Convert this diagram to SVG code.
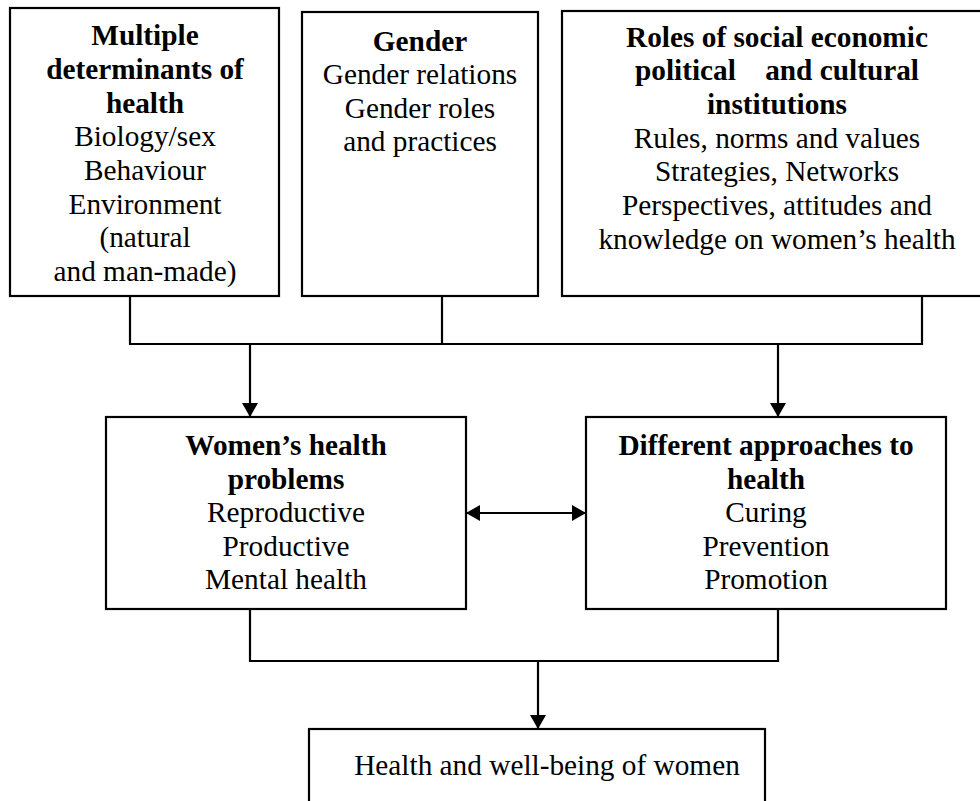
<svg xmlns="http://www.w3.org/2000/svg" width="980" height="801" viewBox="0 0 980 801">
<defs>
<style>
.box{fill:#fff;stroke:#000;stroke-width:2.2}
.ln{fill:none;stroke:#000;stroke-width:2.2}
text{font-family:"Liberation Serif","Times New Roman",serif;font-size:29.3px;fill:#000;text-anchor:middle}
.b{font-weight:bold}
</style>
<marker id="ah" viewBox="0 0 14 16" refX="14" refY="8" markerWidth="14" markerHeight="16" markerUnits="userSpaceOnUse" orient="auto-start-reverse">
<path d="M0,0 L14,8 L0,16 Z" fill="#000"/>
</marker>
</defs>
<rect width="980" height="801" fill="#fff"/>
<g id="connectors">
<polyline class="ln" points="130,296 130,344 922,344 922,296"/>
<line class="ln" x1="442" y1="296" x2="442" y2="344"/>
<line class="ln" x1="250" y1="344" x2="250" y2="417" marker-end="url(#ah)"/>
<line class="ln" x1="778" y1="344" x2="778" y2="417" marker-end="url(#ah)"/>
<line class="ln" x1="466" y1="513" x2="586" y2="513" marker-start="url(#ah)" marker-end="url(#ah)"/>
<polyline class="ln" points="250,609 250,661 778,661 778,609"/>
<line class="ln" x1="538" y1="661" x2="538" y2="729" marker-end="url(#ah)"/>
</g>
<g id="n1">
<rect class="box" x="10" y="8" width="269" height="288"/>
<text x="145" y="45" class="b">Multiple</text>
<text x="145" y="79" class="b">determinants of</text>
<text x="145" y="112.5" class="b">health</text>
<text x="145" y="146">Biology/sex</text>
<text x="145" y="180">Behaviour</text>
<text x="145" y="213.5">Environment</text>
<text x="145" y="247">(natural</text>
<text x="145" y="281">and man-made)</text>
</g>
<g id="n2">
<rect class="box" x="302" y="12" width="236" height="284"/>
<text x="420" y="50.5" class="b">Gender</text>
<text x="420" y="84">Gender relations</text>
<text x="420" y="117.5">Gender roles</text>
<text x="420" y="151">and practices</text>
</g>
<g id="n3">
<rect class="box" x="562" y="11" width="430" height="285"/>
<text x="777" y="46.5" class="b">Roles of social economic</text>
<text x="777" y="80" class="b" style="white-space:pre">political    and cultural</text>
<text x="777" y="113.5" class="b">institutions</text>
<text x="777" y="147.5">Rules, norms and values</text>
<text x="777" y="181">Strategies, Networks</text>
<text x="777" y="215">Perspectives, attitudes and</text>
<text x="777" y="248.5">knowledge on women’s health</text>
</g>
<g id="n4">
<rect class="box" x="106" y="417" width="360" height="192"/>
<text x="286" y="455" class="b">Women’s health</text>
<text x="286" y="488.5" class="b">problems</text>
<text x="286" y="522">Reproductive</text>
<text x="286" y="555.5">Productive</text>
<text x="286" y="589">Mental health</text>
</g>
<g id="n5">
<rect class="box" x="586" y="417" width="360" height="192"/>
<text x="766" y="455" class="b">Different approaches to</text>
<text x="766" y="488.5" class="b">health</text>
<text x="766" y="522">Curing</text>
<text x="766" y="555.5">Prevention</text>
<text x="766" y="589">Promotion</text>
</g>
<g id="n6">
<rect class="box" x="309" y="729" width="456" height="80"/>
<text x="547" y="775">Health and well-being of women</text>
</g>
</svg>
